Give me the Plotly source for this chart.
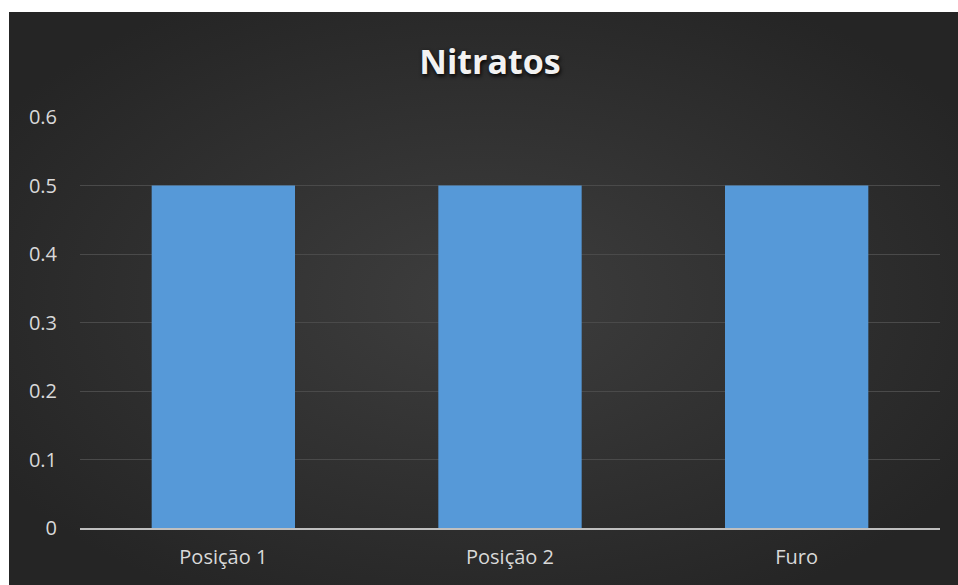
import plotly.graph_objects as go
import base64

categories = ["Posição 1", "Posição 2", "Furo"]
values = [0.5, 0.5, 0.5]
y_ticks = [0, 0.1, 0.2, 0.3, 0.4, 0.5, 0.6]
y_tick_labels = ["0", "0.1", "0.2", "0.3", "0.4", "0.5", "0.6"]

W, H = 958, 585
ml, mr, mt, mb = 80, 18, 117, 57
pw, ph = W - ml - mr, H - mt - mb

svg = (
    '<svg xmlns="http://www.w3.org/2000/svg" width="949" height="573" viewBox="0 0 949 573" preserveAspectRatio="none">'
    '<defs><radialGradient id="g" cx="0.5" cy="0.5" r="0.6">'
    '<stop offset="0" stop-color="#3e3e3e"/><stop offset="1" stop-color="#252525"/>'
    '</radialGradient></defs>'
    '<rect width="949" height="573" fill="url(#g)"/></svg>'
)
bg_uri = "data:image/svg+xml;base64," + base64.b64encode(svg.encode()).decode()

fig = go.Figure()
fig.add_trace(go.Bar(
    x=categories, y=values,
    width=0.5,
    marker=dict(color="#5699d8", line=dict(width=0)),
    hoverinfo="x+y",
))

fig.add_layout_image(dict(
    source=bg_uri,
    xref="paper", yref="paper",
    x=(9 - ml) / pw, y=1 + (mt - 12) / ph,
    sizex=(W - 9) / pw, sizey=(H - 12) / ph,
    xanchor="left", yanchor="top",
    sizing="stretch", layer="below",
))

fig.update_layout(
    width=W, height=H,
    margin=dict(l=ml, r=mr, t=mt, b=mb),
    paper_bgcolor="#ffffff",
    plot_bgcolor="rgba(0,0,0,0)",
    showlegend=False,
    title=dict(
        text="Nitratos",
        x=(490 - ml) / pw, xref="paper", xanchor="center",
        y=1 - 62 / H, yref="container", yanchor="middle",
        font=dict(family="Open Sans, Lato, sans-serif", size=34, color="#f2f2f2",
                  weight="bold", shadow="1px 2px 4px #000000"),
    ),
    font=dict(family="Open Sans, Lato, sans-serif", size=20, color="#d9d9d9"),
    bargap=0.5,
)
fig.update_xaxes(
    showgrid=False, showline=True, linecolor="#bfbfbf", linewidth=2,
    ticks="", tickfont=dict(size=20, color="#d9d9d9"), ticklabelstandoff=10,
)
fig.update_yaxes(
    range=[0, 0.6], tickvals=y_ticks, ticktext=y_tick_labels,
    showgrid=True, gridcolor="#4a4a4a", gridwidth=1,
    zeroline=False, showline=False, ticks="",
    tickfont=dict(size=20, color="#d9d9d9"), ticklabelstandoff=22,
)

fig.write_html("out.html")
